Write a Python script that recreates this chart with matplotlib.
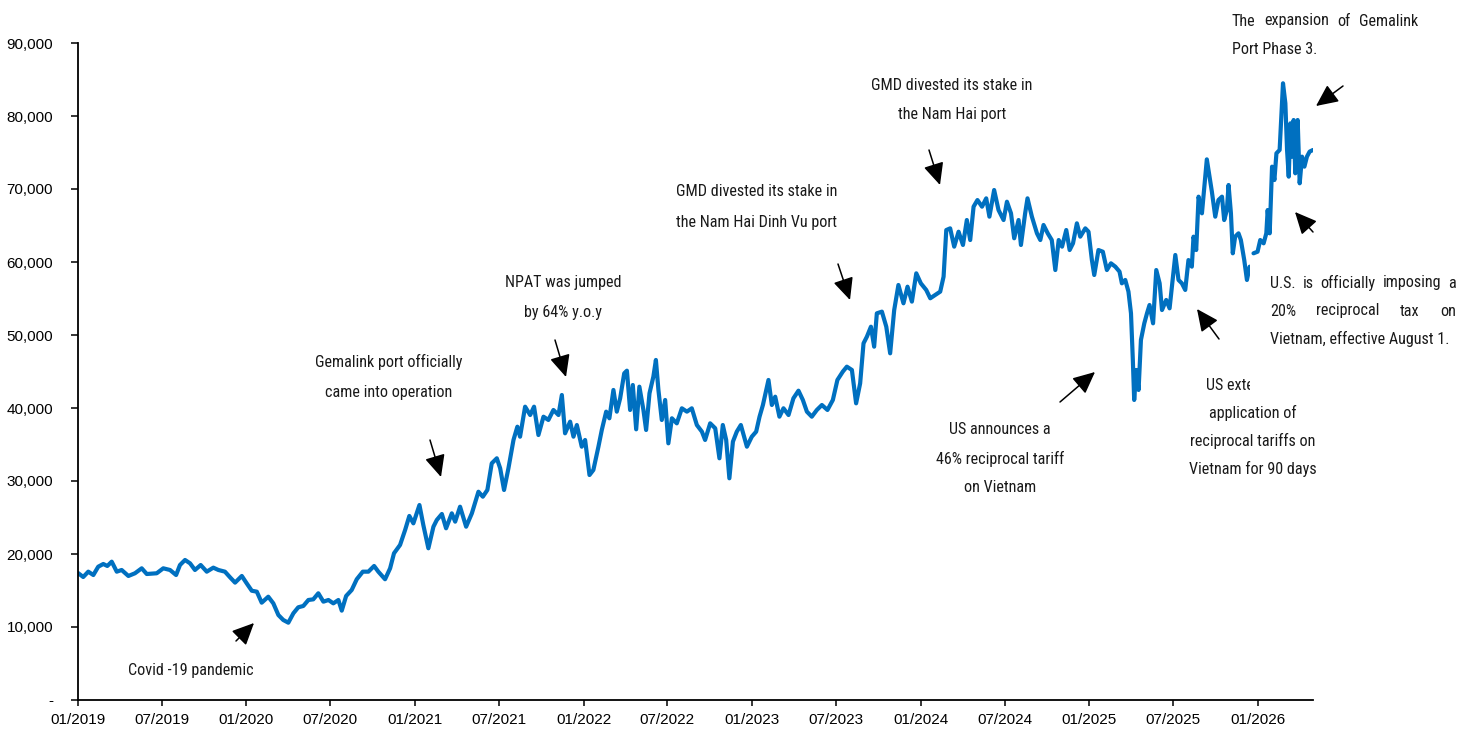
import matplotlib
matplotlib.use('Agg')
import matplotlib.pyplot as plt
import matplotlib.dates as mdates
import matplotlib.ticker as mticker
from matplotlib import font_manager
from matplotlib.patches import Rectangle
import numpy as np
import pandas as pd

# GMD share price (VND); time given as years elapsed since 01/01/2019
years = [
    0.000, 0.031, 0.061, 0.091, 0.120, 0.150, 0.174, 0.200, 0.230, 0.259,
    0.299, 0.338, 0.378, 0.408, 0.467, 0.506, 0.546, 0.582, 0.605, 0.635,
    0.665, 0.694, 0.728, 0.764, 0.803, 0.833, 0.872, 0.902, 0.932, 0.972,
    1.001, 1.031, 1.061, 1.090, 1.129, 1.159, 1.189, 1.218, 1.248, 1.278,
    1.307, 1.337, 1.367, 1.396, 1.426, 1.456, 1.486, 1.515, 1.545, 1.565,
    1.591, 1.624, 1.654, 1.690, 1.723, 1.757, 1.782, 1.822, 1.852, 1.875,
    1.911, 1.941, 1.966, 1.990, 2.026, 2.049, 2.079, 2.109, 2.129, 2.159,
    2.184, 2.218, 2.238, 2.267, 2.303, 2.337, 2.376, 2.402, 2.429, 2.455,
    2.485, 2.505, 2.528, 2.554, 2.584, 2.607, 2.623, 2.653, 2.683, 2.706,
    2.732, 2.762, 2.791, 2.821, 2.851, 2.871, 2.890, 2.920, 2.940, 2.960,
    2.989, 3.009, 3.035, 3.058, 3.088, 3.108, 3.134, 3.153, 3.177, 3.197,
    3.217, 3.241, 3.257, 3.276, 3.292, 3.312, 3.331, 3.355, 3.371, 3.391,
    3.414, 3.429, 3.444, 3.464, 3.484, 3.503, 3.524, 3.553, 3.583, 3.613,
    3.642, 3.672, 3.702, 3.721, 3.751, 3.781, 3.806, 3.826, 3.846, 3.865,
    3.886, 3.909, 3.933, 3.969, 3.998, 4.024, 4.044, 4.064, 4.097, 4.117,
    4.137, 4.162, 4.186, 4.216, 4.245, 4.275, 4.301, 4.325, 4.354, 4.384,
    4.414, 4.447, 4.479, 4.506, 4.538, 4.562, 4.592, 4.617, 4.641, 4.661,
    4.681, 4.705, 4.724, 4.740, 4.770, 4.796, 4.819, 4.843, 4.868, 4.898,
    4.922, 4.948, 4.974, 5.001, 5.033, 5.057, 5.086, 5.116, 5.136, 5.152,
    5.175, 5.199, 5.225, 5.251, 5.274, 5.294, 5.314, 5.337, 5.364, 5.389,
    5.408, 5.436, 5.462, 5.492, 5.512, 5.536, 5.555, 5.581, 5.595, 5.620,
    5.634, 5.660, 5.690, 5.710, 5.729, 5.754, 5.778, 5.799, 5.819, 5.839,
    5.864, 5.884, 5.904, 5.927, 5.947, 5.977, 5.996, 6.016, 6.030, 6.055,
    6.081, 6.105, 6.129, 6.155, 6.180, 6.194, 6.214, 6.233, 6.248, 6.259,
    6.267, 6.279, 6.293, 6.307, 6.327, 6.343, 6.358, 6.379, 6.398, 6.418,
    6.432, 6.457, 6.477, 6.497, 6.511, 6.530, 6.550, 6.570, 6.589, 6.609,
    6.619, 6.635, 6.649, 6.669, 6.685, 6.698, 6.714, 6.728, 6.748, 6.767,
    6.788, 6.801, 6.817, 6.827, 6.841, 6.852, 6.866, 6.886, 6.900, 6.920,
    6.936, 6.952, 6.963, 6.975, 6.999, 7.015, 7.035, 7.051, 7.059, 7.071,
    7.085, 7.099, 7.111, 7.130, 7.144, 7.150, 7.164, 7.174, 7.184, 7.194,
    7.204, 7.213, 7.223, 7.237, 7.249, 7.263, 7.277, 7.292, 7.308, 7.328,
]
price = [
    17400, 16850, 17580, 17120, 18260, 18630, 18360, 18950, 17580, 17810,
    16990, 17360, 18040, 17260, 17360, 18040, 17810, 17120, 18490, 19180,
    18720, 17810, 18490, 17580, 18130, 17810, 17580, 16810, 16080, 16990,
    15980, 14970, 14840, 13330, 14150, 13240, 11640, 10960, 10590, 11880,
    12700, 12880, 13700, 13790, 14620, 13470, 13700, 13240, 13700, 12240,
    14250, 15070, 16540, 17580, 17580, 18360, 17580, 16540, 18040, 20100,
    21240, 23290, 25210, 24200, 26710, 23970, 20780, 23740, 24660, 25480,
    23520, 25570, 24430, 26480, 23740, 25570, 28530, 27850, 28770, 32420,
    33110, 31740, 28770, 31740, 35620, 37440, 36070, 40180, 39040, 40180,
    36300, 38810, 38360, 39730, 39040, 41780, 36530, 38130, 36070, 37670,
    34700, 35620, 30820, 31510, 34700, 36990, 39500, 38590, 42470, 39500,
    41330, 44750, 45110, 39730, 43150, 37080, 42920, 39730, 36990, 42010,
    44290, 46580, 42470, 38360, 41100, 35160, 38590, 37900, 39960, 39500,
    39960, 37670, 36760, 35620, 37900, 37220, 33110, 37670, 35620, 30370,
    35390, 36760, 37670, 34700, 36070, 36760, 38810, 40410, 43840, 40410,
    41550, 38810, 39960, 39040, 41330, 42370, 41100, 39500, 38810, 39730,
    40410, 39730, 41100, 43840, 44980, 45660, 45210, 40640, 43380, 48860,
    49770, 51140, 48400, 52970, 53200, 51140, 47490, 53420, 56850, 54340,
    56620, 54570, 58450, 57080, 56170, 55030, 55480, 55940, 57990, 64380,
    64610, 62100, 64150, 62330, 65750, 63010, 67580, 68490, 67580, 68720,
    66210, 69860, 67120, 65750, 68260, 66670, 63250, 65750, 62330, 66670,
    68720, 66210, 63930, 63010, 65070, 63930, 63010, 58900, 63010, 62100,
    64380, 61640, 62560, 65300, 63470, 64610, 64150, 60270, 58220, 61640,
    61410, 58900, 59820, 59360, 58680, 57080, 57540, 55940, 52970, 46580,
    41100, 45210, 42470, 49320, 51600, 52970, 54110, 51600, 58900, 57080,
    53420, 54800, 53650, 57990, 60960, 57540, 57080, 56170, 60270, 59360,
    63470, 61640, 68950, 66670, 70780, 74060, 71690, 69630, 66210, 68490,
    68950, 65750, 67120, 70550, 66670, 61190, 63470, 63930, 63010, 60270,
    57540, 59360, np.nan, 61190, 61410, 63010, 62560, 63930, 67120, 63930,
    73060, 71230, 74890, 75350, 81740, 84480, 81740, 75350, 71690, 79000,
    74430, 79450, 72150, 79450, 70780, 74430, 73060, 74430, 75120, 75350,
]

W, H = 1463, 735
BLUE = '#0070C0'

names = {f.name for f in font_manager.fontManager.ttflist}
TICK_FONT = 'Liberation Sans' if 'Liberation Sans' in names else 'DejaVu Sans'
NOTE_FONT = 'DejaVu Sans'
for cand in ['Liberation Sans Narrow', 'Roboto Condensed', 'Open Sans Condensed']:
    if cand in names:
        NOTE_FONT = cand
        break
NOTE_KW = dict(family=NOTE_FONT, fontsize=11.6, color='#1a1a1a', fontstretch='condensed')


def fp(x, y):
    # pixel position (from top-left) -> figure fraction
    return x / W, 1 - y / H


start = pd.Timestamp('2019-01-01')
dates = start + pd.to_timedelta(np.array(years) * 365.25, unit='D')

fig = plt.figure(figsize=(W / 100, H / 100), dpi=100)
ax = fig.add_axes([78 / W, 35 / H, (1313 - 78) / W, (700 - 43) / H])
ax.plot(dates, price, color=BLUE, lw=3.0, solid_joinstyle='round', solid_capstyle='round')

ax.set_ylim(0, 90000)
ax.set_xlim(start, dates[-1])
ax.yaxis.set_major_locator(mticker.MultipleLocator(10000))
ax.yaxis.set_major_formatter(mticker.FuncFormatter(lambda v, p: '-' if v == 0 else f'{v:,.0f}'))
ax.xaxis.set_major_locator(mdates.MonthLocator(bymonth=[1, 7]))
ax.xaxis.set_major_formatter(mdates.DateFormatter('%m/%Y'))
for s in ['top', 'right']:
    ax.spines[s].set_visible(False)
for s in ['left', 'bottom']:
    ax.spines[s].set_linewidth(1.3)
ax.tick_params(axis='y', direction='out', length=5, width=1.1, pad=13)
ax.tick_params(axis='x', direction='out', length=4, width=1.1, pad=5)
for lab in ax.get_xticklabels() + ax.get_yticklabels():
    lab.set_fontfamily(TICK_FONT)
    lab.set_fontsize(11)

# centred annotation blocks: lines, centre x, first line y, line step (px)
notes = [
    (["Covid -19 pandemic"], 191, 670, 0),
    (["Gemalink port officially", "came into operation"], 389, 362, 30),
    (["NPAT was jumped", "by 64% y.o.y"], 563, 283, 29),
    (["GMD divested its stake in", "the Nam Hai Dinh Vu port"], 757, 192, 30),
    (["GMD divested its stake in", "the Nam Hai port"], 952, 86, 28),
    (["US announces a", "46% reciprocal tariff", "on Vietnam"], 1000, 430, 28.5),
    (["US extends the", "application of", "reciprocal tariffs on", "Vietnam for 90 days"], 1253, 385, 28),
]
for lines, cx, y0, dy in notes:
    for i, line in enumerate(lines):
        fig.text(*fp(cx, y0 + i * dy), line, ha='center', va='center', zorder=3, **NOTE_KW)

# white text box of the right-hand note hides part of "US extends the"
fig.patches.append(Rectangle(fp(1250, 398), (W - 1250) / W, 136 / H,
                             transform=fig.transFigure, facecolor='white',
                             edgecolor='none', zorder=3.5))

renderer = fig.canvas.get_renderer()


def justified(words, x0, x1, y):
    ts = [fig.text(*fp(x0, y), w, ha='left', va='center', zorder=4, **NOTE_KW) for w in words]
    widths = [t.get_window_extent(renderer).width for t in ts]
    gap = max((x1 - x0 - sum(widths)) / max(len(words) - 1, 1), 3)
    x = x0
    for t, w in zip(ts, widths):
        t.set_x(x / W)
        x += w + gap


justified(["U.S.", "is", "officially", "imposing", "a"], 1270, 1456, 283)
justified(["20%", "reciprocal", "tax", "on"], 1270, 1456, 311)
fig.text(*fp(1270, 339), "Vietnam, effective August 1.", ha='left', va='center', zorder=4, **NOTE_KW)
justified(["The", "expansion", "of", "Gemalink"], 1232, 1418, 21)
fig.text(*fp(1232, 50), "Port Phase 3.", ha='left', va='center', zorder=4, **NOTE_KW)

# arrows: tail -> head (px)
arrows = [
    ((236, 641), (254, 623)),
    ((430, 440), (441, 477)),
    ((555, 340), (566, 377)),
    ((838, 264), (850, 300)),
    ((929, 150), (940, 185)),
    ((1060, 402), (1095, 372)),
    ((1219, 339), (1197, 309)),
    ((1313, 232), (1295, 212)),
    ((1343, 86), (1316, 106)),
]
for tail, head in arrows:
    ax.annotate('', xy=fp(*head), xytext=fp(*tail), xycoords='figure fraction',
                textcoords='figure fraction', annotation_clip=False,
                arrowprops=dict(arrowstyle='-|>,head_length=0.75,head_width=0.35',
                                mutation_scale=18, color='black', lw=1.1,
                                shrinkA=0, shrinkB=0))

fig.savefig('out.png', dpi=100)
